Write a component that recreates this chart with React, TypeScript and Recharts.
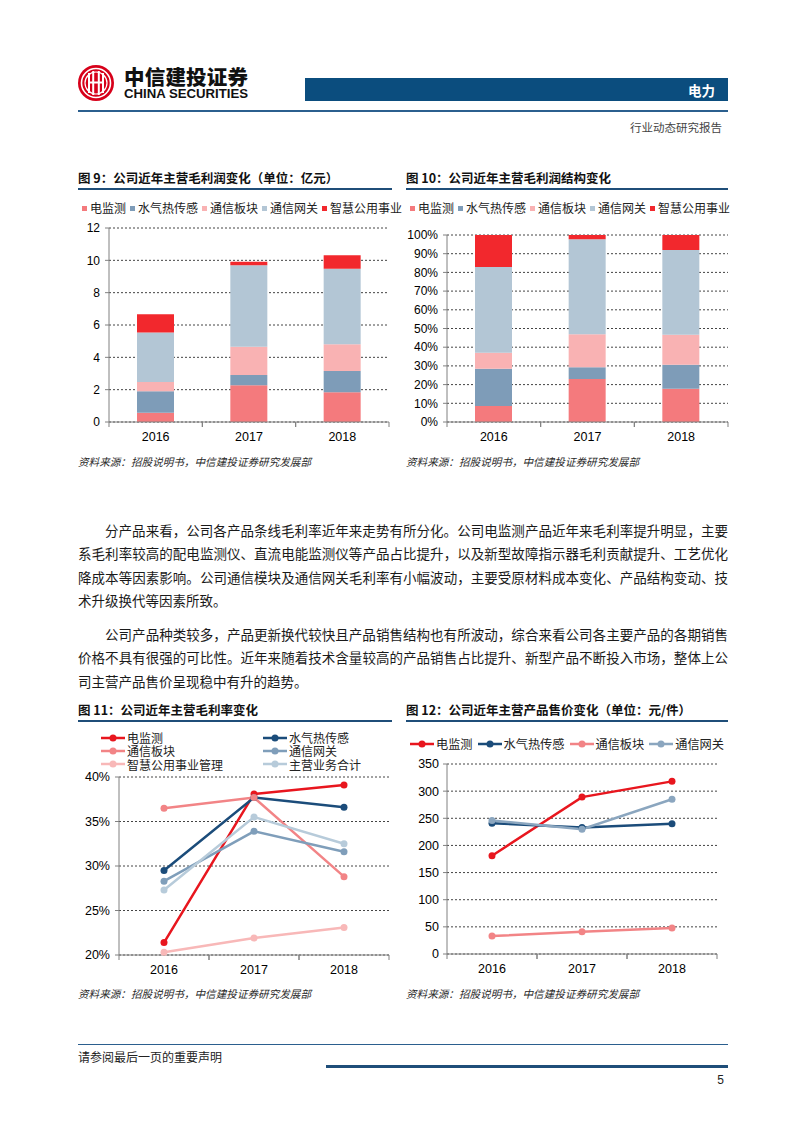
import React from 'react';
import { BarChart, Bar, LineChart, Line, XAxis, YAxis, CartesianGrid } from 'recharts';

// ---------- data ----------
const years = ['2016', '2017', '2018'];

// 图9 毛利润（亿元）
const profitNames = ['电监测', '水气热传感', '通信板块', '通信网关', '智慧公用事业'];
const profitDianjiance = [0.57, 2.28, 1.84];
const profitShuiqire = [1.33, 0.62, 1.31];
const profitBankuai = [0.57, 1.76, 1.66];
const profitWangguan = [3.06, 5.03, 4.67];
const profitZhihui = [1.14, 0.23, 0.83];
const profitTicks = [0, 2, 4, 6, 8, 10, 12];
const shareTicks = [0, 0.1, 0.2, 0.3, 0.4, 0.5, 0.6, 0.7, 0.8, 0.9, 1];

// 图11 毛利率（%）
const marginNames = ['电监测', '水气热传感', '通信板块', '通信网关', '智慧公用事业管理', '主营业务合计'];
const marginDian = [21.4, 38.1, 39.1];
const marginShui = [29.5, 37.7, 36.6];
const marginBan = [36.5, 37.7, 28.8];
const marginWang = [28.3, 33.9, 31.6];
const marginZhi = [20.3, 21.9, 23.1];
const marginTotal = [27.3, 35.5, 32.5];
const marginTicks = [20, 25, 30, 35, 40];

// 图12 售价（元/件）
const priceNames = ['电监测', '水气热传感', '通信板块', '通信网关'];
const priceDian = [181, 289, 318];
const priceShui = [241, 233, 240];
const priceBan = [33, 41, 48];
const priceWang = [246, 230, 285];
const priceTicks = [0, 50, 100, 150, 200, 250, 300, 350];

// ---------- styling ----------
const barColors = ['#F47A7D', '#7E9CB8', '#F9B2B3', '#B3C6D5', '#F2282D'];
const marginColors = ['#E8161E', '#1B4C7A', '#F28486', '#7F9EBA', '#F8B8B8', '#B7CBDA'];
const priceColors = ['#E8161E', '#1B4C7A', '#F28486', '#8BA6BF'];

const NUM = '"Liberation Sans", Arial, sans-serif';
const CJK = '"Noto Sans CJK SC", "Noto Sans", sans-serif';
const AXIS = '#808080';
const BLUE = '#1F4E79';

const keys9 = ['d', 's', 'b', 'w', 'z'];
const profitSeries = [profitDianjiance, profitShuiqire, profitBankuai, profitWangguan, profitZhihui];
const profitData = years.map((y, i) => {
  const row: any = { year: y };
  keys9.forEach((k, j) => (row[k] = profitSeries[j][i]));
  return row;
});

const keys11 = ['d', 's', 'b', 'w', 'z', 't'];
const marginSeries = [marginDian, marginShui, marginBan, marginWang, marginZhi, marginTotal];
const marginData = years.map((y, i) => {
  const row: any = { year: y };
  keys11.forEach((k, j) => (row[k] = marginSeries[j][i]));
  return row;
});

const keys12 = ['d', 's', 'b', 'w'];
const priceSeries = [priceDian, priceShui, priceBan, priceWang];
const priceData = years.map((y, i) => {
  const row: any = { year: y };
  keys12.forEach((k, j) => (row[k] = priceSeries[j][i]));
  return row;
});

const XTick = (props: any) => {
  const { x, y, payload, half } = props;
  return (
    <g>
      <line x1={x - half} y1={y} x2={x - half} y2={y + 5} stroke={AXIS} strokeWidth={1} />
      <line x1={x + half} y1={y} x2={x + half} y2={y + 5} stroke={AXIS} strokeWidth={1} />
      <text x={x} y={y + 19} textAnchor="middle" fontSize={12.5} fill="#000" fontFamily={NUM}>
        {payload.value}
      </text>
    </g>
  );
};

const yTick = { fontSize: 12, fill: '#000', fontFamily: NUM };

const abs = (left: number, top: number, extra: any = {}) => ({ position: 'absolute' as const, left, top, ...extra });

const Title = ({ left, top, width, text }: any) => (
  <>
    <div style={abs(left, top, { fontFamily: CJK, fontWeight: 700, fontSize: 12.5, lineHeight: '16px', color: '#111', whiteSpace: 'nowrap' })}>{text}</div>
    <div style={abs(left, top + 18, { width, height: 2, background: BLUE })} />
  </>
);

const Source = ({ left, top }: any) => (
  <div style={abs(left, top, { fontFamily: CJK, fontStyle: 'italic', fontSize: 10.6, lineHeight: '14px', color: '#2a2a2a', whiteSpace: 'nowrap' })}>
    资料来源：招股说明书，中信建投证券研究发展部
  </div>
);

const SquareLegend = ({ left, top }: any) => (
  <div style={abs(left, top, { fontFamily: CJK, fontSize: 12, lineHeight: '16px', color: '#222', whiteSpace: 'nowrap', display: 'flex', alignItems: 'center' })}>
    {profitNames.map((n, i) => (
      <React.Fragment key={n}>
        <span style={{ display: 'inline-flex', width: 12, justifyContent: 'center' }}>
          <span style={{ display: 'inline-block', width: 5, height: 5, background: barColors[i] }} />
        </span>
        <span>{n}</span>
      </React.Fragment>
    ))}
  </div>
);

const LineMark = ({ color }: any) => (
  <svg width={24} height={10} style={{ display: 'block', flex: 'none' }}>
    <line x1={0} y1={5} x2={24} y2={5} stroke={color} strokeWidth={2.5} />
    <circle cx={12} cy={5} r={3.5} fill={color} />
  </svg>
);

const bodyLine = { fontFamily: CJK, fontSize: 13.5, lineHeight: '20px', color: '#1a1a1a', whiteSpace: 'nowrap' as const };

const JLine = ({ top, text, indent, last }: any) => (
  <div
    style={abs(78 + (indent ? 27 : 0), top, {
      ...bodyLine,
      width: 650 - (indent ? 27 : 0),
      textAlign: last ? 'left' : 'justify',
      textAlignLast: last ? 'left' : 'justify',
      whiteSpace: 'normal',
      height: 20,
      overflow: 'visible',
    })}
  >
    {text}
  </div>
);

const para1 = [
  '分产品来看，公司各产品条线毛利率近年来走势有所分化。公司电监测产品近年来毛利率提升明显，主要',
  '系毛利率较高的配电监测仪、直流电能监测仪等产品占比提升，以及新型故障指示器毛利贡献提升、工艺优化',
  '降成本等因素影响。公司通信模块及通信网关毛利率有小幅波动，主要受原材料成本变化、产品结构变动、技',
  '术升级换代等因素所致。',
];
const para2 = [
  '公司产品种类较多，产品更新换代较快且产品销售结构也有所波动，综合来看公司各主要产品的各期销售',
  '价格不具有很强的可比性。近年来随着技术含量较高的产品销售占比提升、新型产品不断投入市场，整体上公',
  '司主营产品售价呈现稳中有升的趋势。',
];

const Logo = () => (
  <svg width={40} height={40} style={abs(76, 63)}>
    <circle cx={20} cy={20} r={18} fill="#D7001A" />
    <circle cx={20} cy={20} r={14.5} fill="none" stroke="#fff" strokeWidth={1.6} />
    <circle cx={20} cy={20} r={11} fill="none" stroke="#fff" strokeWidth={1.2} />
    <rect x={12} y={10} width={2} height={20} fill="#fff" />
    <rect x={16.2} y={8} width={2} height={24} fill="#fff" />
    <rect x={21.8} y={8} width={2} height={24} fill="#fff" />
    <rect x={26} y={10} width={2} height={20} fill="#fff" />
    <rect x={12} y={18.5} width={16} height={2} fill="#fff" />
  </svg>
);

export default function App() {
  return (
    <div style={{ position: 'absolute', left: 0, top: 0, width: 802, height: 1133, background: '#fff', overflow: 'hidden' }}>
      {/* header */}
      <Logo />
      <div style={abs(124, 66, { fontFamily: CJK, fontWeight: 900, fontSize: 20.5, lineHeight: '21px', color: '#111', letterSpacing: 0.2, whiteSpace: 'nowrap' })}>中信建投证券</div>
      <div style={abs(124, 87, { fontFamily: NUM, fontWeight: 700, fontSize: 13.2, lineHeight: '13px', color: '#111', whiteSpace: 'nowrap' })}>CHINA SECURITIES</div>
      <div style={abs(305, 78, { width: 423, height: 23, background: '#0B4D7E' })} />
      <div style={abs(600, 81, { width: 115, textAlign: 'right', fontFamily: CJK, fontWeight: 700, fontSize: 13.5, lineHeight: '18px', color: '#fff' })}>电力</div>
      <div style={abs(78, 110, { width: 650, height: 1.5, background: '#2B5F8E' })} />
      <div style={abs(560, 119, { width: 162, textAlign: 'right', fontFamily: CJK, fontSize: 11.5, lineHeight: '16px', color: '#444' })}>行业动态研究报告</div>

      {/* chart 9 */}
      <Title left={78} top={170} width={314} text="图 9：公司近年主营毛利润变化（单位：亿元）" />
      <SquareLegend left={78} top={200} />
      <div style={abs(60, 218)}>
        <BarChart width={340} height={234} data={profitData} margin={{ top: 10, right: 11, bottom: 0, left: 0 }}>
          <CartesianGrid vertical={false} stroke="#444" strokeDasharray="2 2" />
          <XAxis dataKey="year" axisLine={{ stroke: AXIS }} tickLine={false} tickSize={0} tickMargin={0} height={30} tick={<XTick half={46.67} />} interval={0} />
          <YAxis width={49} domain={[0, 12]} ticks={profitTicks} interval={0} axisLine={{ stroke: AXIS }} tickLine={{ stroke: AXIS }} tickSize={4} tickMargin={5} tick={yTick} />
          {keys9.map((k, i) => (
            <Bar key={k} dataKey={k} name={profitNames[i]} stackId="a" fill={barColors[i]} barSize={37} isAnimationActive={false} />
          ))}
        </BarChart>
      </div>
      <Source left={78} top={455} />

      {/* chart 10 */}
      <Title left={406} top={170} width={322} text="图 10：公司近年主营毛利润结构变化" />
      <SquareLegend left={406} top={200} />
      <div style={abs(395, 225)}>
        <BarChart width={335} height={227} data={profitData} stackOffset="expand" margin={{ top: 10, right: 2, bottom: 0, left: 0 }}>
          <CartesianGrid vertical={false} stroke="#444" strokeDasharray="2 2" />
          <XAxis dataKey="year" axisLine={{ stroke: AXIS }} tickLine={false} tickSize={0} tickMargin={0} height={30} tick={<XTick half={46.83} />} interval={0} />
          <YAxis width={52} domain={[0, 1]} ticks={shareTicks} interval={0} tickFormatter={(v: number) => `${Math.round(v * 100)}%`} axisLine={{ stroke: AXIS }} tickLine={{ stroke: AXIS }} tickSize={4} tickMargin={5} tick={yTick} />
          {keys9.map((k, i) => (
            <Bar key={k} dataKey={k} name={profitNames[i]} stackId="a" fill={barColors[i]} barSize={37} isAnimationActive={false} />
          ))}
        </BarChart>
      </div>
      <Source left={406} top={455} />

      {/* body text */}
      {para1.map((t, i) => (
        <JLine key={'p1' + i} top={520 + i * 23.3} text={t} indent={i === 0} last={i === para1.length - 1} />
      ))}
      {para2.map((t, i) => (
        <JLine key={'p2' + i} top={624 + i * 23.3} text={t} indent={i === 0} last={i === para2.length - 1} />
      ))}

      {/* chart 11 */}
      <Title left={78} top={702} width={314} text="图 11：公司近年主营毛利率变化" />
      {marginNames.map((n, i) => (
        <div
          key={n}
          style={abs(i % 2 === 0 ? 101 : 263, 731 + Math.floor(i / 2) * 13.3, {
            display: 'flex', alignItems: 'center', height: 13, fontFamily: CJK, fontSize: 12, lineHeight: '13px', color: '#222', whiteSpace: 'nowrap',
          })}
        >
          <LineMark color={marginColors[i]} />
          <span style={{ marginLeft: 2 }}>{n}</span>
        </div>
      ))}
      <div style={abs(70, 767)}>
        <LineChart width={330} height={218} data={marginData} margin={{ top: 10, right: 11, bottom: 0, left: 0 }}>
          <CartesianGrid vertical={false} stroke="#444" strokeDasharray="2 2" />
          <XAxis dataKey="year" padding={{ left: 45, right: 45 }} axisLine={{ stroke: AXIS }} tickLine={false} tickSize={0} tickMargin={0} height={30} tick={<XTick half={45} />} interval={0} />
          <YAxis width={49} domain={[20, 40]} ticks={marginTicks} interval={0} tickFormatter={(v: number) => `${v}%`} axisLine={{ stroke: AXIS }} tickLine={{ stroke: AXIS }} tickSize={4} tickMargin={5} tick={{ ...yTick, fontSize: 12.5 }} />
          {keys11.map((k, i) => (
            <Line key={k} dataKey={k} name={marginNames[i]} stroke={marginColors[i]} strokeWidth={2.5} dot={{ r: 3.5, fill: marginColors[i], stroke: marginColors[i], strokeWidth: 0 }} isAnimationActive={false} />
          ))}
        </LineChart>
      </div>
      <Source left={78} top={987} />

      {/* chart 12 */}
      <Title left={406} top={702} width={322} text="图 12：公司近年主营产品售价变化（单位：元/件）" />
      <div style={abs(410, 736, { display: 'flex', alignItems: 'center', fontFamily: CJK, fontSize: 12.2, lineHeight: '16px', color: '#222', whiteSpace: 'nowrap' })}>
        {priceNames.map((n, i) => (
          <div key={n} style={{ display: 'flex', alignItems: 'center', marginRight: 5 }}>
            <LineMark color={priceColors[i]} />
            <span style={{ marginLeft: 2 }}>{n}</span>
          </div>
        ))}
      </div>
      <div style={abs(395, 754)}>
        <LineChart width={330} height={230} data={priceData} margin={{ top: 10, right: 8, bottom: 0, left: 0 }}>
          <CartesianGrid vertical={false} stroke="#444" strokeDasharray="2 2" />
          <XAxis dataKey="year" padding={{ left: 45, right: 45 }} axisLine={{ stroke: AXIS }} tickLine={false} tickSize={0} tickMargin={0} height={30} tick={<XTick half={45} />} interval={0} />
          <YAxis width={52} domain={[0, 350]} ticks={priceTicks} interval={0} axisLine={{ stroke: AXIS }} tickLine={{ stroke: AXIS }} tickSize={4} tickMargin={4} tick={{ ...yTick, fontSize: 12.5 }} />
          {keys12.map((k, i) => (
            <Line key={k} dataKey={k} name={priceNames[i]} stroke={priceColors[i]} strokeWidth={2.5} dot={{ r: 3.5, fill: priceColors[i], stroke: priceColors[i], strokeWidth: 0 }} isAnimationActive={false} />
          ))}
        </LineChart>
      </div>
      <Source left={406} top={987} />

      {/* footer */}
      <div style={abs(78, 1044, { width: 650, height: 1, background: '#2B5F8E' })} />
      <div style={abs(78, 1048, { fontFamily: CJK, fontSize: 12, lineHeight: '17px', color: '#222', whiteSpace: 'nowrap' })}>请参阅最后一页的重要声明</div>
      <div style={abs(326, 1065, { width: 402, height: 3, background: BLUE })} />
      <div style={abs(700, 1072, { width: 24, textAlign: 'right', fontFamily: NUM, fontSize: 12, lineHeight: '16px', color: '#222' })}>5</div>
    </div>
  );
}
